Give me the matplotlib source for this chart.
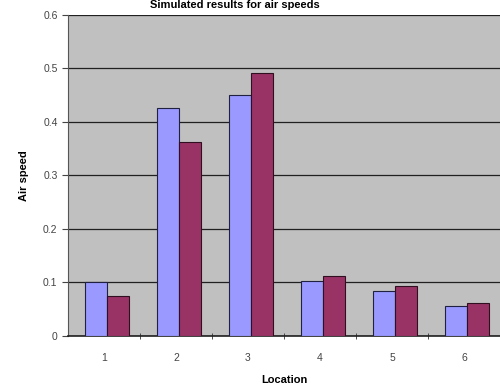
import numpy as np
import matplotlib.pyplot as plt

plt.rcParams['font.family'] = ['Liberation Sans', 'DejaVu Sans']

locations = ['1', '2', '3', '4', '5', '6']
series_a = [0.100, 0.425, 0.450, 0.102, 0.083, 0.055]
series_b = [0.074, 0.362, 0.492, 0.111, 0.093, 0.061]

fig = plt.figure(figsize=(5.0, 3.91), dpi=100)
ax = fig.add_axes([0.136, 0.141, 0.864, 0.821])
ax.set_facecolor('#C0C0C0')

x = np.arange(1, len(locations) + 1)
w = 0.31
ax.bar(x - w / 2 + 0.04, series_a, width=w, color='#9999FF', edgecolor='#202040', linewidth=0.8, zorder=3)
ax.bar(x + w / 2 + 0.04, series_b, width=w, color='#993366', edgecolor='#301020', linewidth=0.8, zorder=3)

ax.set_xlim(0.5, 6.5)
ax.set_ylim(0, 0.6)
ax.set_yticks(np.arange(0, 0.61, 0.1))
ax.set_yticklabels(['0', '0.1', '0.2', '0.3', '0.4', '0.5', '0.6'])
ax.set_xticks(x)
ax.set_xticklabels(locations)
ax.set_xticks(np.arange(1.5, 6.5, 1), minor=True)
ax.tick_params(axis='x', which='major', length=0, labelsize=7.5, pad=12, colors='#444444')
ax.tick_params(axis='x', which='minor', length=4, direction='inout', color='#333333')
ax.tick_params(axis='y', length=4, direction='out', labelsize=7.5, colors='#444444')

ax.grid(axis='y', color='#202020', linewidth=0.9, zorder=1)
for s in ['top', 'right']:
    ax.spines[s].set_visible(False)
ax.spines['left'].set_color('#555555')
ax.spines['bottom'].set_color('#202020')
ax.spines['bottom'].set_linewidth(1.2)

ax.set_xlabel('Location', fontsize=8, fontweight='bold', labelpad=9)
ax.set_ylabel('Air speed', fontsize=8, fontweight='bold', labelpad=10)
fig.text(0.47, 1.0, 'Simulated results for air speeds', fontsize=8,
         fontweight='bold', ha='center', va='top')

fig.savefig('out.png', dpi=100)
